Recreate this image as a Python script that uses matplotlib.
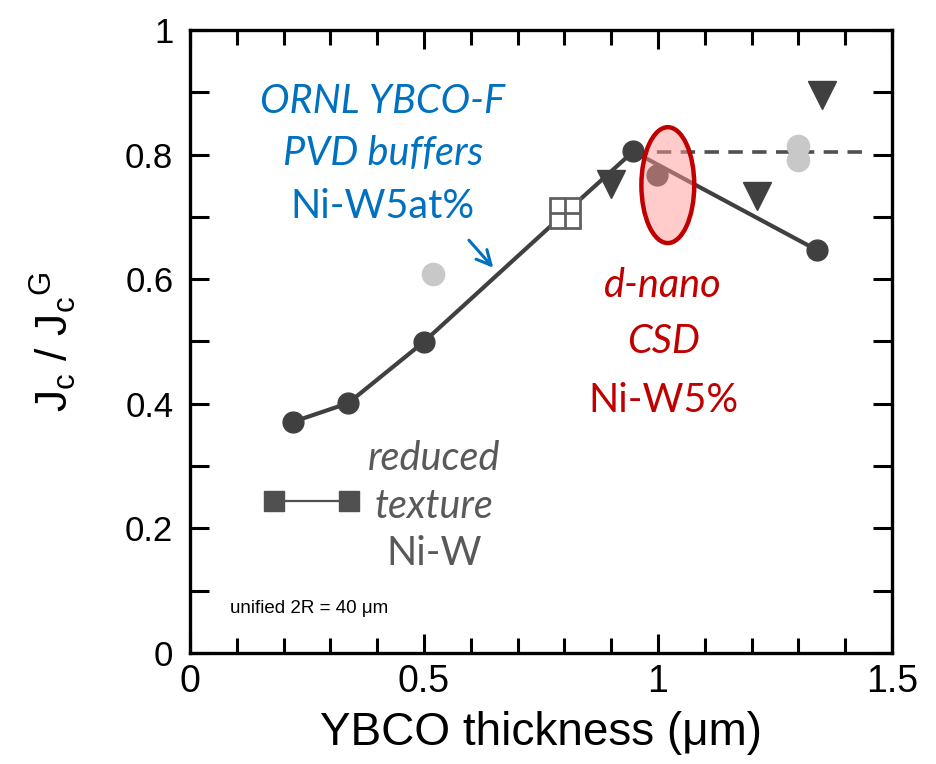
import matplotlib
matplotlib.use("Agg")
import matplotlib.pyplot as plt
from matplotlib.patches import Ellipse
from matplotlib.ticker import MultipleLocator

# ORNL YBCO-F, PVD buffers (main connected series)
main_x = [0.220, 0.338, 0.499, 0.801, 0.947, 1.339]
main_y = [0.371, 0.401, 0.499, 0.706, 0.805, 0.647]
# open crossed square point on the main line
square_x = [0.801]
square_y = [0.706]
# d-nano CSD point (under the ellipse)
dnano_x = [0.998]
dnano_y = [0.767]
# triangles
tri_x = [0.899, 1.211, 1.351]
tri_y = [0.753, 0.734, 0.896]
# light gray points
gray_x = [0.519, 1.300, 1.300]
gray_y = [0.609, 0.814, 0.791]
# reduced texture Ni-W
red_tex_x = [0.180, 0.340]
red_tex_y = [0.244, 0.244]
# dashed level
dash_x = [0.947, 1.436]
dash_y = [0.804, 0.804]

DARK = "#404040"
BLUE = "#0070C0"
RED = "#C00000"
GREYTXT = "#595959"

plt.rcParams.update({
    "font.family": ["Liberation Sans", "DejaVu Sans"],
    "mathtext.fontset": "custom",
    "mathtext.rm": "Liberation Sans",
    "mathtext.it": "Liberation Sans:italic",
})

fig = plt.figure(figsize=(9.36, 7.64), dpi=100)
ax = fig.add_axes([190 / 936, 1 - 653 / 764, 702 / 936, 623 / 764])

ax.plot(main_x, main_y, "-o", color=DARK, lw=3, ms=15, zorder=3)
ax.plot(square_x, square_y, "s", mfc="white", mec="#606060", mew=2, ms=21, zorder=4)
ax.plot(square_x, square_y, "+", mec="#606060", mew=2, ms=21, zorder=5)
ax.plot(dash_x, dash_y, "--", color="#505050", lw=2.6, dashes=(4, 2.6), zorder=2)
ax.plot(dnano_x, dnano_y, "o", color=DARK, ms=15, zorder=3)
ax.plot(tri_x, tri_y, "v", color=DARK, ms=20, zorder=3)
ax.plot(gray_x, gray_y, "o", color="#C8C8C8", ms=16, zorder=2)
ax.plot(red_tex_x, red_tex_y, "-s", color="#505050", lw=1.6, ms=15, zorder=3)

ell = Ellipse((1.021, 0.751), 0.113, 0.186, facecolor="#FF9999", alpha=0.5,
              edgecolor="none", zorder=6)
ax.add_patch(ell)
ax.add_patch(Ellipse((1.021, 0.751), 0.113, 0.186, facecolor="none",
                     edgecolor=RED, lw=3.2, zorder=7))

ax.annotate("", xy=(0.652, 0.615), xytext=(0.592, 0.666),
            arrowprops=dict(arrowstyle="->", color=BLUE, lw=2.2, mutation_scale=26))

cal = ["Lato", "DejaVu Sans"]
fs = 28.5
ax.text(0.412, 0.867, "ORNL YBCO-F", color=BLUE, fontsize=fs, style="italic",
        family=cal, ha="center", va="baseline")
ax.text(0.412, 0.783, "PVD buffers", color=BLUE, fontsize=fs, style="italic",
        family=cal, ha="center", va="baseline")
ax.text(0.412, 0.698, "Ni-W5at%", color=BLUE, fontsize=fs,
        family=cal, ha="center", va="baseline")
ax.text(1.011, 0.571, "d-nano", color=RED, fontsize=fs, style="italic",
        family=cal, ha="center", va="baseline")
ax.text(1.011, 0.4815, "CSD", color=RED, fontsize=fs, style="italic",
        family=cal, ha="center", va="baseline")
ax.text(1.011, 0.387, "Ni-W5%", color=RED, fontsize=fs,
        family=cal, ha="center", va="baseline")
ax.text(0.521, 0.294, "reduced", color=GREYTXT, fontsize=fs, style="italic",
        family=cal, ha="center", va="baseline")
ax.text(0.521, 0.217, "texture", color=GREYTXT, fontsize=fs, style="italic",
        family=cal, ha="center", va="baseline")
ax.text(0.521, 0.141, "Ni-W", color=GREYTXT, fontsize=fs,
        family=cal, ha="center", va="baseline")
ax.text(0.085, 0.064, "unified 2R = 40 μm", fontsize=13.5, ha="left", va="baseline")

ax.set_xlim(0, 1.5)
ax.set_ylim(0, 1)
ax.xaxis.set_major_locator(MultipleLocator(0.5))
ax.xaxis.set_minor_locator(MultipleLocator(0.1))
ax.yaxis.set_major_locator(MultipleLocator(0.2))
ax.yaxis.set_minor_locator(MultipleLocator(0.1))
ax.xaxis.set_major_formatter(plt.FuncFormatter(lambda v, p: f"{v:g}"))
ax.yaxis.set_major_formatter(plt.FuncFormatter(lambda v, p: f"{v:g}"))

for s in ax.spines.values():
    s.set_linewidth(2.4)
ax.tick_params(axis="both", which="both", direction="in", top=True, right=True,
               width=2.2, color="black")
ax.tick_params(axis="x", which="major", length=14, labelsize=27, pad=8)
ax.tick_params(axis="x", which="minor", length=11)
ax.tick_params(axis="y", which="both", length=14, labelsize=25, pad=12)

ax.set_xlabel("YBCO thickness (μm)", fontsize=33, labelpad=8)
ax.set_ylabel(r"J$_{\rm c}$ / J$_{\rm c}$$^{\rm G}$", fontsize=32, labelpad=34)

fig.savefig("out.png", dpi=100)
